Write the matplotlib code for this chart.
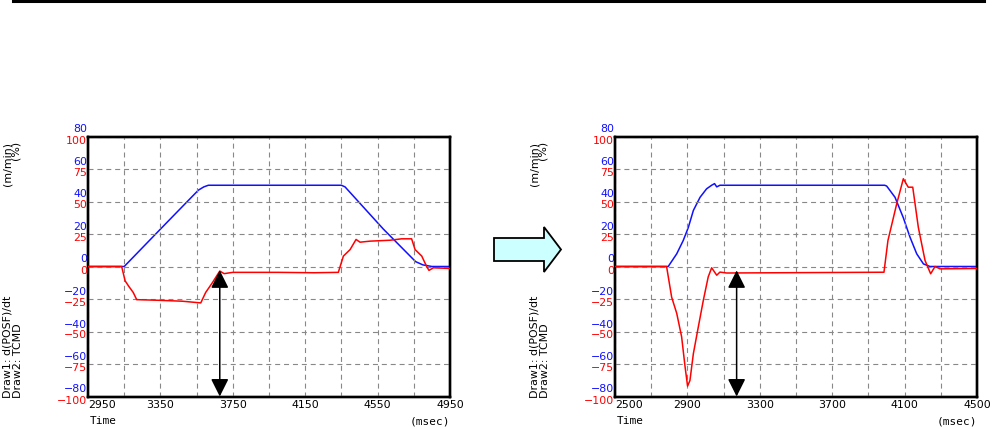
import matplotlib
matplotlib.use("Agg")
import matplotlib.pyplot as plt
from matplotlib.patches import Polygon
from matplotlib.lines import Line2D
import matplotlib.transforms as mtransforms

W, H = 1003, 429

# left chart: speed (blue, m/min) and torque command (red, %)
left_t_blue = [2950, 3150, 3385, 3560, 3590, 3615, 4350, 4370, 4582, 4760, 4800, 4850, 4950]
left_v_blue = [0, 0, 27, 47, 49, 50, 50, 49, 23, 3, 1, 0, 0]
left_t_red = [2950, 3136, 3155, 3174, 3200, 3219, 3343, 3471, 3573, 3600, 3637, 3678, 3702, 3750,
              4000, 4200, 4333, 4361, 4398, 4431, 4453, 4508, 4619, 4683, 4738, 4757, 4794, 4821,
              4834, 4858, 4950]
left_v_red = [0, 0, -11, -15, -20, -25.5, -26, -26.7, -28, -20, -12.5, -3.5, -5.5, -4.5,
              -4.5, -4.8, -4.5, 8, 13, 20.8, 18.7, 19.5, 20.2, 21.3, 21.3, 13, 8, 0,
              -3, -1, -1.5]
left_xrange = (2950, 4950)
left_arrow_t = 3678

# right chart
right_t_blue = [2500, 2794, 2841, 2877, 2905, 2933, 2970, 3006, 3034, 3050, 3062, 3080, 3990,
                4001, 4047, 4093, 4130, 4167, 4204, 4240, 4500]
right_v_blue = [0, 0, 7.8, 16, 24, 34.5, 42.6, 47.8, 50, 51, 49, 50, 50,
                49.5, 42.6, 30, 18, 7.8, 1.6, 0, 0]
right_t_red = [2500, 2785, 2813, 2841, 2868, 2887, 2901, 2914, 2933, 2960, 2988, 3015, 3034,
               3062, 3080, 3117, 3986, 4008, 4056, 4093, 4120, 4145, 4176, 4213, 4244, 4268,
               4296, 4500]
right_v_red = [0, 0, -23.6, -36, -54, -77, -92, -87.7, -67, -46.7, -26, -8, -1,
               -6.7, -4.3, -5, -4.4, 20, 48, 67.5, 61, 61, 30, 4.6, -5.6, 0,
               -1.8, -1.5]
right_xrange = (2500, 4500)
right_arrow_t = 3172

red_ticks = [-100, -75, -50, -25, 0, 25, 50, 75, 100]
blue_ticks = [-80, -60, -40, -20, 0, 20, 40, 60, 80]

BLUE = "#1010ff"
RED = "#ff0000"
FS = 7.9

fig = plt.figure(figsize=(W / 100, H / 100), dpi=100)


def px(x, y):
    return x / W, 1 - y / H


def draw_chart(left_px, t_blue, v_blue, t_red, v_red, xr, arrow_t):
    top_px, bot_px = 136.5, 396.5
    x0, y0 = px(left_px, bot_px)
    ax = fig.add_axes([x0, y0, 362 / W, (bot_px - top_px) / H])
    ax.set_xlim(*xr)
    ax.set_ylim(-100, 100)
    ax2 = ax.twinx()
    ax2.set_ylim(-80, 80)
    ax2.set_yticks([])

    xt = list(range(xr[0], xr[1] + 1, 200))
    ax.set_xticks(xt)
    ax.set_xticklabels([str(v) if i % 2 == 0 else "" for i, v in enumerate(xt)], fontsize=FS)
    ax.get_xticklabels()[0].set_ha("left")
    ax.tick_params(axis="x", length=0, pad=2.5)
    ax.set_yticks(red_ticks)
    ax.set_yticklabels([])
    ax.tick_params(axis="y", length=0)
    ax.grid(True, color="#888888", linestyle=(0, (4.5, 3.5)), linewidth=0.8)

    for s in list(ax.spines.values()) + list(ax2.spines.values()):
        s.set_linewidth(1.7)
        s.set_color("black")

    # tick labels for both scales, stacked on the left
    tr_red = mtransforms.blended_transform_factory(ax.transAxes, ax.transData)
    tr_blue = mtransforms.blended_transform_factory(ax2.transAxes, ax2.transData)
    off_red = mtransforms.ScaledTranslation(-1 / 100, -4 / 100, fig.dpi_scale_trans)
    off_blue = mtransforms.ScaledTranslation(-1 / 100, 7 / 100, fig.dpi_scale_trans)
    for v in red_ticks:
        ax.text(0, v, str(v).replace("-", "\u2212"), color=RED, fontsize=FS, ha="right",
                va="center", transform=tr_red + off_red)
    for v in blue_ticks:
        ax2.text(0, v, str(v).replace("-", "\u2212"), color=BLUE, fontsize=FS, ha="right",
                 va="center", transform=tr_blue + off_blue)

    ax2.plot(t_blue, v_blue, color=BLUE, lw=1.1, zorder=3)
    ax.plot(t_red, v_red, color=RED, lw=1.1, zorder=3)
    ax.set_zorder(ax2.get_zorder() + 1)
    ax.patch.set_visible(False)

    ax.annotate("", xy=(arrow_t, -100), xytext=(arrow_t, -3),
                arrowprops=dict(arrowstyle="<|-|>,head_length=0.9,head_width=0.45",
                                mutation_scale=12, color="black", lw=1.1,
                                shrinkA=0, shrinkB=0), zorder=5)

    # axis captions
    fx, fy = px(left_px + 2, 421)
    fig.text(fx, fy, "Time", fontsize=8, family="DejaVu Sans Mono", ha="left", va="center")
    fx, fy = px(left_px + 362, 421)
    fig.text(fx, fy, "(msec)", fontsize=8, family="DejaVu Sans Mono", ha="right", va="center")
    fx, fy = px(left_px - 80, 142)
    fig.text(fx, fy, "(m/min)", fontsize=FS, rotation=90, ha="center", va="top")
    fx, fy = px(left_px - 72, 141)
    fig.text(fx, fy, "(%)", fontsize=FS, rotation=90, ha="center", va="top")
    fx, fy = px(left_px - 80, 398)
    fig.text(fx, fy, "Draw1: d(POSF)/dt", fontsize=FS, rotation=90, ha="center", va="bottom")
    fx, fy = px(left_px - 70, 398)
    fig.text(fx, fy, "Draw2: TCMD", fontsize=FS, rotation=90, ha="center", va="bottom")
    return ax


draw_chart(88, left_t_blue, left_v_blue, left_t_red, left_v_red, left_xrange, left_arrow_t)
draw_chart(615, right_t_blue, right_v_blue, right_t_red, right_v_red, right_xrange, right_arrow_t)

# top rule
fig.add_artist(Line2D([13 / W, 984 / W], [1 - 1.2 / H, 1 - 1.2 / H], color="black", lw=2.2))

# block arrow between the charts
pts = [(494, 238), (544, 238), (544, 227), (561, 249.5), (544, 272), (544, 261), (494, 261)]
fig.add_artist(Polygon([px(x, y) for x, y in pts], closed=True, facecolor="#ccffff",
                       edgecolor="black", lw=1.3, transform=fig.transFigure))

fig.savefig("out.png", dpi=100)
